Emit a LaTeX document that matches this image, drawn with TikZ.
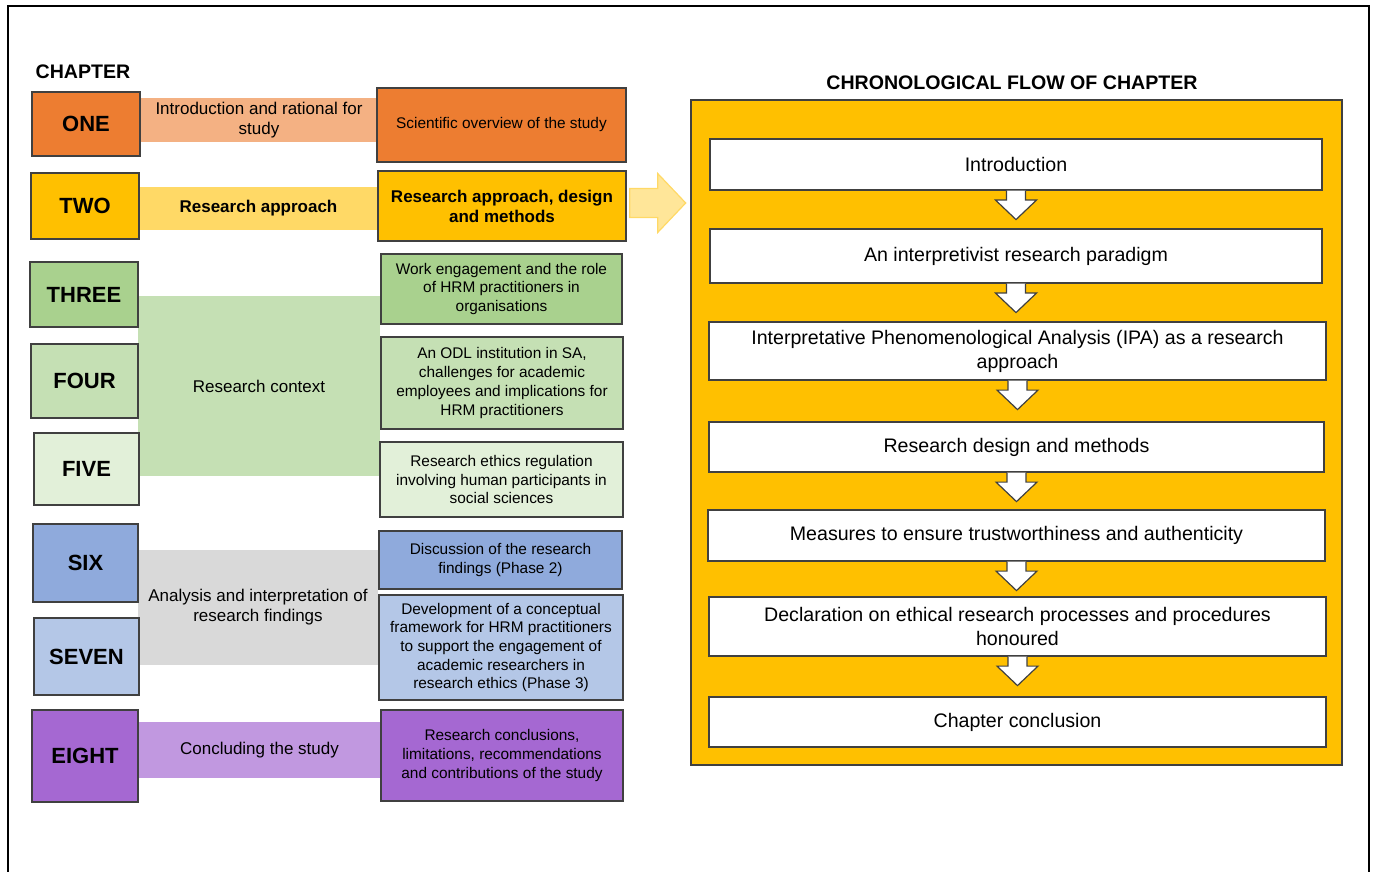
\documentclass[tikz,border=0pt]{standalone}
\usepackage{fontspec}
\setmainfont{Liberation Sans}
\usepackage{xcolor}
\usetikzlibrary{positioning,calc}

\definecolor{edge}{RGB}{64,64,64}
\definecolor{orangeA}{RGB}{237,125,49}
\definecolor{orangeB}{RGB}{244,177,131}
\definecolor{goldA}{RGB}{255,192,0}
\definecolor{goldB}{RGB}{255,217,102}
\definecolor{goldC}{RGB}{255,230,153}
\definecolor{greenA}{RGB}{169,209,142}
\definecolor{greenB}{RGB}{197,224,180}
\definecolor{greenC}{RGB}{226,240,217}
\definecolor{blueA}{RGB}{143,170,220}
\definecolor{blueB}{RGB}{180,199,231}
\definecolor{greyB}{RGB}{217,217,217}
\definecolor{purpleA}{RGB}{165,104,210}
\definecolor{purpleB}{RGB}{193,152,224}

\begin{document}
\begin{tikzpicture}[
  x=0.5pt, y=-0.5pt,
  chapbox/.style={rectangle, draw=edge, line width=0.7pt, inner sep=0pt, font=\bfseries\fontsize{11}{13}\selectfont},
  strip/.style={rectangle, inner sep=0pt, align=center, font=\fontsize{8.5}{10}\selectfont},
  topic/.style={rectangle, draw=edge, line width=0.7pt, inner sep=0pt, align=center, font=\fontsize{7.7}{9.35}\selectfont},
  flowbox/.style={rectangle, draw=edge, line width=0.6pt, fill=white, inner sep=0pt, align=center, font=\fontsize{9.8}{12}\selectfont},
  heading/.style={font=\bfseries\fontsize{9.8}{12}\selectfont},
  downarrow/.style={draw=edge, line width=0.6pt, fill=white, line join=miter}
]

\useasboundingbox (0,0) rectangle (1373,872);
\draw[line width=1pt] (8,872) -- (8,6) -- (1369,6) -- (1369,872);

% left: chapters
\node[heading] (chapter) at (83,72) {CHAPTER};

\node[strip, fill=orangeB, minimum width=119pt, minimum height=22pt] (s1) at (259,120) {Introduction and rational for\\study};
\node[strip, fill=goldB, minimum width=119.5pt, minimum height=21.5pt, font=\bfseries\fontsize{8.5}{10}\selectfont] (s2) at (258.5,208.5) {Research approach};
\node[strip, fill=greenB, minimum width=121pt, minimum height=90pt] (s3) at (259,386) {Research context};
\node[strip, fill=greyB, minimum width=120pt, minimum height=57.5pt] (s4) at (258,607.5) {Analysis and interpretation of\\research findings};
\node[strip, fill=purpleB, minimum width=121.5pt, minimum height=28pt] (s5) at (259.5,750) {Concluding the study};

\node[chapbox, fill=orangeA, minimum width=54pt, minimum height=32pt] (one) at (86,124) {ONE};
\node[chapbox, fill=goldA, minimum width=54pt, minimum height=33pt] (two) at (85,206) {TWO};
\node[chapbox, fill=greenA, minimum width=54pt, minimum height=32.5pt] (three) at (84,294.5) {THREE};
\node[chapbox, fill=greenB, minimum width=53.5pt, minimum height=37pt] (four) at (84.5,381) {FOUR};
\node[chapbox, fill=greenC, minimum width=52.5pt, minimum height=36pt] (five) at (86.5,469) {FIVE};
\node[chapbox, fill=blueA, minimum width=52.5pt, minimum height=39pt] (six) at (85.5,563) {SIX};
\node[chapbox, fill=blueB, minimum width=52.5pt, minimum height=38.5pt] (seven) at (86.5,656.5) {SEVEN};
\node[chapbox, fill=purpleA, minimum width=53pt, minimum height=46pt] (eight) at (85,756) {EIGHT};

\node[topic, fill=orangeA, minimum width=124.5pt, minimum height=37pt] (r1) at (501.5,125) {Scientific overview of the study};
\node[topic, fill=goldA, minimum width=124pt, minimum height=35pt, font=\bfseries\fontsize{8.5}{10}\selectfont] (r2) at (502,206) {Research approach, design\\and methods};
\node[topic, fill=greenA, minimum width=120.5pt, minimum height=35pt] (r3) at (501.5,289) {Work engagement and the role\\of HRM practitioners in\\organisations};
\node[topic, fill=greenB, minimum width=121pt, minimum height=46pt] (r4) at (502,383) {An ODL institution in SA,\\challenges for academic\\employees and implications for\\HRM practitioners};
\node[topic, fill=greenC, minimum width=121.5pt, minimum height=37.5pt] (r5) at (501.5,479.5) {Research ethics regulation\\involving human participants in\\social sciences};
\node[topic, fill=blueA, minimum width=121.5pt, minimum height=29pt] (r6) at (500.5,560) {Discussion of the research\\findings (Phase 2)};
\node[topic, fill=blueB, minimum width=122pt, minimum height=52.5pt] (r7) at (501,647.5) {Development of a conceptual\\framework for HRM practitioners\\to support the engagement of\\academic researchers in\\research ethics (Phase 3)};
\node[topic, fill=purpleA, minimum width=121pt, minimum height=45.5pt] (r8) at (502,755.5) {Research conclusions,\\limitations, recommendations\\and contributions of the study};

% big arrow to the flow
\coordinate (pin) at ($(r2.east)+(3,-3)$);
\draw[draw=goldB, fill=goldC, line width=0.6pt, line join=miter]
  ($(pin)+(0,-14.5)$) -- ++(28,0) -- ++(0,-15) -- ++(28,29.5) -- ++(-28,29.5) -- ++(0,-15) -- ++(-28,0) -- cycle;

% right: chronological flow
\node[heading] (flowtitle) at (1012,83) {CHRONOLOGICAL FLOW OF CHAPTER};
\node[rectangle, draw=edge, line width=0.7pt, fill=goldA, minimum width=325.5pt, minimum height=332.5pt] (panel) at (1016.5,432.5) {};

\node[flowbox, minimum width=306pt, minimum height=25.5pt] (b1) at (1016,164.5) {Introduction};
\node[flowbox, minimum width=306pt, minimum height=27pt] (b2) at (1016,256) {An interpretivist research paradigm};
\node[flowbox, minimum width=308.5pt, minimum height=29pt] (b3) at (1017.5,351) {Interpretative Phenomenological Analysis (IPA) as a research\\approach};
\node[flowbox, minimum width=307.5pt, minimum height=25pt] (b4) at (1016.5,447) {Research design and methods};
\node[flowbox, minimum width=308.5pt, minimum height=25.5pt] (b5) at (1016.5,535.5) {Measures to ensure trustworthiness and authenticity};
\node[flowbox, minimum width=308.5pt, minimum height=29.5pt] (b6) at (1017.5,626.5) {Declaration on ethical research processes and procedures\\honoured};
\node[flowbox, minimum width=308.5pt, minimum height=25pt] (b7) at (1017.5,722) {Chapter conclusion};

\foreach \a/\b in {b1/b2, b2/b3, b3/b4, b4/b5, b5/b6, b6/b7}
  \draw[downarrow] ($(\a.south)+(-9.5,0)$) -- ++(0,9.5) -- ++(-11,0) -- ++(20.5,19.5) -- ++(20.5,-19.5) -- ++(-11,0) -- ++(0,-9.5);

\end{tikzpicture}
\end{document}
